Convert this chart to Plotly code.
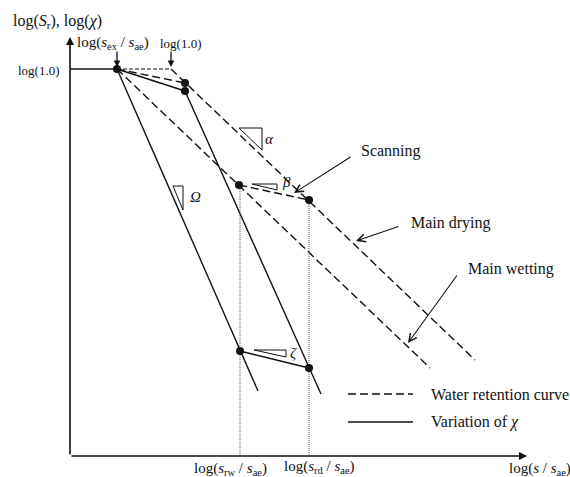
import plotly.graph_objects as go

# Schematic coordinates: x = log(s/s_ae), y = log(S_r) or log(chi); 1 unit = 100 px
X_RANGE = [-1.71, 3.99]
Y_RANGE = [-4.08, 0.69]
X_AXIS0, Y_AXIS0 = -1.01, -3.87       # origin of the drawn axes
X_AXIS_END, Y_AXIS_END = 3.56, 0.32   # arrow tips of the axes

x_sex = -0.54   # log(s_ex/s_ae)
x_one = 0.0     # log(1.0)
x_rw = 0.69     # log(s_rw/s_ae)
x_rd = 1.38     # log(s_rd/s_ae)

# Water retention curves (dashed)
drying_x, drying_y = [0.0, 3.04], [0.0, -2.91]
wetting_x, wetting_y = [-0.54, 2.59], [0.0, -2.99]
plateau_dash_x, plateau_dash_y = [-0.54, 0.0], [0.0, 0.0]
scan_dry_x, scan_dry_y = [-0.54, 0.14], [0.0, -0.14]
scan_wet_x, scan_wet_y = [0.68, 1.38], [-1.16, -1.31]

# Variation of chi (solid)
plateau_x, plateau_y = [-1.01, -0.54], [0.0, 0.0]
omega_x, omega_y = [-0.54, 0.87], [0.0, -3.22]
chi_scan_x, chi_scan_y = [-0.54, 0.14], [0.0, -0.22]
chi_steep_x, chi_steep_y = [0.14, 1.50], [-0.22, -3.25]
zeta_x, zeta_y = [0.69, 1.38], [-2.82, -2.99]

# Marked states
dots_x = [-0.54, 0.14, 0.14, 0.68, 1.38, 0.69, 1.38]
dots_y = [0.0, -0.14, -0.22, -1.16, -1.31, -2.82, -2.99]

# Projections onto the suction axis
rw_proj_x, rw_proj_y = [0.69, 0.69], [-1.16, -3.87]
rd_proj_x, rd_proj_y = [1.38, 1.38], [-1.31, -3.87]

# Slope triangles
alpha_tri_x, alpha_tri_y = [0.68, 0.91, 0.91, 0.68], [-0.59, -0.59, -0.81, -0.59]
beta_tri_x, beta_tri_y = [0.81, 1.06, 1.06, 0.81], [-1.15, -1.15, -1.21, -1.15]
zeta_tri_x, zeta_tri_y = [0.83, 1.15, 1.15, 0.83], [-2.81, -2.81, -2.88, -2.81]
omega_tri_x, omega_tri_y = [0.02, 0.12, 0.12, 0.02], [-1.17, -1.17, -1.41, -1.17]

# Legend samples
legend_x = [1.77, 2.42]
legend_dash_y = [-3.25, -3.25]
legend_solid_y = [-3.53, -3.53]

FONT = "Liberation Serif"
BLACK = "#111111"
DASH = "8px,4px"

fig = go.Figure()


def line(x, y, dash="solid", width=1.4, color=BLACK):
    fig.add_trace(go.Scatter(x=x, y=y, mode="lines",
                             line=dict(color=color, width=width, dash=dash),
                             hoverinfo="skip", showlegend=False))


for xs, ys in [(drying_x, drying_y), (wetting_x, wetting_y),
               (scan_dry_x, scan_dry_y), (scan_wet_x, scan_wet_y)]:
    line(xs, ys, dash=DASH)
line(plateau_dash_x, plateau_dash_y, dash="4px,2px", width=1.1)

for xs, ys in [(plateau_x, plateau_y), (omega_x, omega_y), (chi_scan_x, chi_scan_y),
               (chi_steep_x, chi_steep_y), (zeta_x, zeta_y)]:
    line(xs, ys)

for xs, ys in [(rw_proj_x, rw_proj_y), (rd_proj_x, rd_proj_y)]:
    line(xs, ys, dash="1px,1px", width=1, color="#555555")

for xs, ys in [(alpha_tri_x, alpha_tri_y), (beta_tri_x, beta_tri_y),
               (zeta_tri_x, zeta_tri_y), (omega_tri_x, omega_tri_y)]:
    line(xs, ys, width=1)

line(legend_x, legend_dash_y, dash=DASH)
line(legend_x, legend_solid_y)

fig.add_trace(go.Scatter(x=dots_x, y=dots_y, mode="markers",
                         marker=dict(color=BLACK, size=8),
                         hoverinfo="skip", showlegend=False))

annotations = []


def arrow(tail, tip, head=2, size=1.0, width=1.3):
    annotations.append(dict(x=tip[0], y=tip[1], ax=tail[0], ay=tail[1],
                            xref="x", yref="y", axref="x", ayref="y",
                            text="", showarrow=True, arrowhead=head,
                            arrowsize=size, arrowwidth=width, arrowcolor=BLACK))


def label(text, x, y, size=15, anchor="left"):
    annotations.append(dict(x=x, y=y, xref="x", yref="y", text=text,
                            showarrow=False, xanchor=anchor, yanchor="middle",
                            font=dict(family=FONT, size=size, color=BLACK)))


# Axes
arrow((X_AXIS0, Y_AXIS0), (X_AXIS_END, Y_AXIS0), head=2, size=1.0, width=1.6)
arrow((X_AXIS0, Y_AXIS0), (X_AXIS0, Y_AXIS_END), head=2, size=1.0, width=1.6)

# Pointers
arrow((x_sex, 0.19), (x_sex, 0.02), head=2, size=1.0, width=1.3)
arrow((x_one, 0.19), (x_one, 0.02), head=2, size=1.0, width=1.3)
arrow((1.81, -0.87), (1.23, -1.24), head=5, size=1.4, width=1.1)
arrow((2.29, -1.57), (1.85, -1.72), head=5, size=1.4, width=1.1)
arrow((2.87, -2.05), (2.37, -2.74), head=5, size=1.4, width=1.1)

# Texts
y_title = "log(<i>S</i><sub>r</sub>), log(<i>χ</i>)"
x_title = "log(<i>s</i> / <i>s</i><sub>ae</sub>)"
tick_rw = "log(<i>s</i><sub>rw</sub> / <i>s</i><sub>ae</sub>)"
tick_rd = "log(<i>s</i><sub>rd</sub> / <i>s</i><sub>ae</sub>)"
tick_sex = "log(<i>s</i><sub>ex</sub> / <i>s</i><sub>ae</sub>)"
tick_one = "log(1.0)"

label(y_title, -1.60, 0.48, size=16)
label(tick_sex, -0.585, 0.26, size=15, anchor="center")
label(tick_one, 0.10, 0.26, size=13, anchor="center")
label(tick_one, -1.09, -0.01, size=13, anchor="right")
label(tick_rw, 0.21, -4.00)
label(tick_rd, 1.11, -3.98)
label(x_title, 3.36, -4.00)

label("Scanning", 1.88, -0.82, size=16)
label("Main drying", 2.38, -1.54, size=16)
label("Main wetting", 2.95, -2.00, size=16)
label("Water retention curve", 2.58, -3.25, size=16)
label("Variation of <i>χ</i>", 2.58, -3.53, size=16)

label("<i>α</i>", 0.98, -0.70, anchor="center")
label("<i>β</i>", 1.15, -1.13, anchor="center")
label("<i>ζ</i>", 1.22, -2.84, anchor="center")
label("<i>Ω</i>", 0.24, -1.28, anchor="center")

fig.update_layout(
    width=570, height=477,
    margin=dict(l=0, r=0, t=0, b=0),
    paper_bgcolor="white", plot_bgcolor="white",
    font=dict(family=FONT, size=15, color=BLACK),
    xaxis=dict(range=X_RANGE, visible=False, fixedrange=True),
    yaxis=dict(range=Y_RANGE, visible=False, fixedrange=True),
    annotations=annotations,
    showlegend=False,
)

fig.write_html("out.html", config={"displayModeBar": False})
